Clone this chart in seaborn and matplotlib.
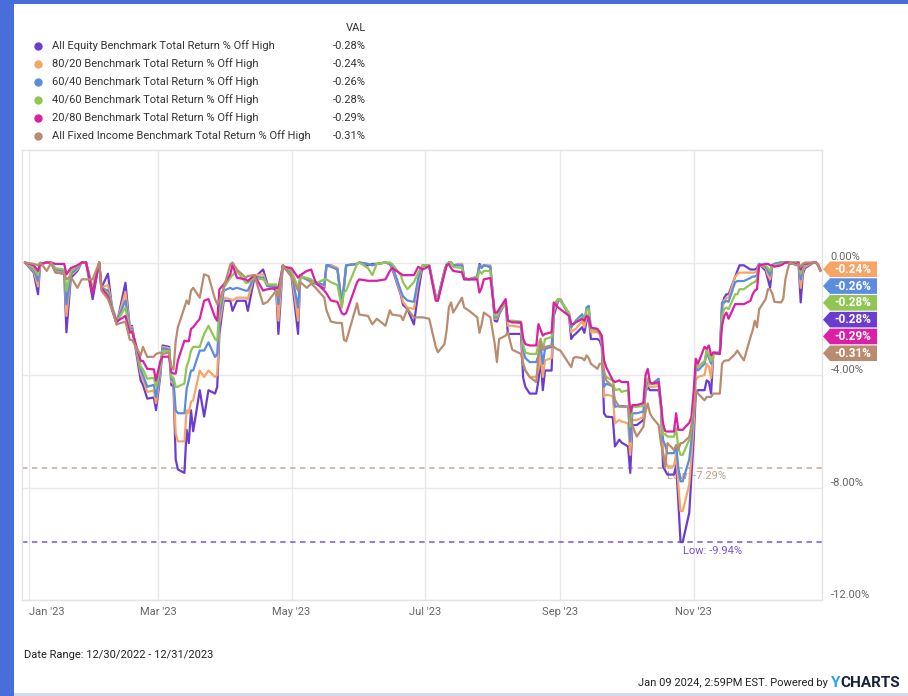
import pandas as pd
import matplotlib
matplotlib.use("Agg")
import matplotlib.pyplot as plt
import matplotlib.dates as mdates
from matplotlib.patches import Polygon, Rectangle
from matplotlib.lines import Line2D
from matplotlib.ticker import FuncFormatter
from matplotlib.transforms import IdentityTransform
import seaborn as sns

#Series names and colours as shown in the legend
series_names = [
    "All Equity Benchmark Total Return % Off High",
    "80/20 Benchmark Total Return % Off High",
    "60/40 Benchmark Total Return % Off High",
    "40/60 Benchmark Total Return % Off High",
    "20/80 Benchmark Total Return % Off High",
    "All Fixed Income Benchmark Total Return % Off High",
]
series_colors = ["#6a3dd0", "#f7a467", "#5a8ddf", "#91c655", "#dd1fa5", "#b98c6f"]

#Trading dates (one line per month)
dates = [
    "2022-12-30", "2023-01-03", "2023-01-05", "2023-01-06", "2023-01-09", "2023-01-11", "2023-01-13",
    "2023-01-17", "2023-01-18", "2023-01-20", "2023-01-23", "2023-01-25", "2023-01-27", "2023-01-30",
    "2023-02-02", "2023-02-03", "2023-02-06", "2023-02-08", "2023-02-10", "2023-02-14", "2023-02-16",
    "2023-02-17", "2023-02-21", "2023-02-22", "2023-02-24", "2023-02-27", "2023-02-28",
    "2023-03-02", "2023-03-03", "2023-03-06", "2023-03-07", "2023-03-08", "2023-03-09", "2023-03-10",
    "2023-03-13", "2023-03-14", "2023-03-15", "2023-03-16", "2023-03-17", "2023-03-20", "2023-03-22",
    "2023-03-24", "2023-03-27", "2023-03-28", "2023-03-29", "2023-03-31",
    "2023-04-03", "2023-04-04", "2023-04-06", "2023-04-10", "2023-04-11", "2023-04-14", "2023-04-18",
    "2023-04-20", "2023-04-24", "2023-04-25", "2023-04-27",
    "2023-05-01", "2023-05-04", "2023-05-05", "2023-05-08", "2023-05-10", "2023-05-12", "2023-05-16",
    "2023-05-17", "2023-05-19", "2023-05-22", "2023-05-24", "2023-05-25", "2023-05-26", "2023-05-31",
    "2023-06-01", "2023-06-05", "2023-06-07", "2023-06-09", "2023-06-13", "2023-06-15", "2023-06-16",
    "2023-06-20", "2023-06-21", "2023-06-23", "2023-06-26", "2023-06-28", "2023-06-30",
    "2023-07-03", "2023-07-06", "2023-07-07", "2023-07-10", "2023-07-11", "2023-07-12", "2023-07-13",
    "2023-07-14", "2023-07-18", "2023-07-19", "2023-07-21", "2023-07-25", "2023-07-26", "2023-07-27",
    "2023-07-28", "2023-07-31",
    "2023-08-02", "2023-08-03", "2023-08-04", "2023-08-07", "2023-08-08", "2023-08-10", "2023-08-14",
    "2023-08-15", "2023-08-16", "2023-08-18", "2023-08-21", "2023-08-22", "2023-08-23", "2023-08-24",
    "2023-08-25", "2023-08-28", "2023-08-29", "2023-08-31",
    "2023-09-01", "2023-09-05", "2023-09-06", "2023-09-07", "2023-09-08", "2023-09-11", "2023-09-12",
    "2023-09-13", "2023-09-14", "2023-09-15", "2023-09-18", "2023-09-19", "2023-09-20", "2023-09-21",
    "2023-09-22", "2023-09-25", "2023-09-26", "2023-09-28", "2023-09-29",
    "2023-10-02", "2023-10-03", "2023-10-04", "2023-10-06", "2023-10-09", "2023-10-10", "2023-10-11",
    "2023-10-12", "2023-10-13", "2023-10-16", "2023-10-17", "2023-10-18", "2023-10-19", "2023-10-20",
    "2023-10-23", "2023-10-24", "2023-10-25", "2023-10-26", "2023-10-27", "2023-10-30", "2023-10-31",
    "2023-11-01", "2023-11-02", "2023-11-03", "2023-11-06", "2023-11-07", "2023-11-08", "2023-11-09",
    "2023-11-10", "2023-11-13", "2023-11-14", "2023-11-15", "2023-11-16", "2023-11-17", "2023-11-20",
    "2023-11-21", "2023-11-22", "2023-11-24", "2023-11-27", "2023-11-28", "2023-11-29", "2023-11-30",
    "2023-12-01", "2023-12-04", "2023-12-05", "2023-12-06", "2023-12-07", "2023-12-08", "2023-12-11",
    "2023-12-12", "2023-12-13", "2023-12-14", "2023-12-15", "2023-12-18", "2023-12-19", "2023-12-20",
    "2023-12-21", "2023-12-22", "2023-12-26", "2023-12-27", "2023-12-28", "2023-12-29",
]

#% off high for each benchmark (same month grouping as dates)
all_equity = [
    0, -0.35, -1.13, -0.05, 0, -0.02, -0.35, -0.40, -2.48, -0.55, -0.30, 0, 0, -1.30,
    0, -0.90, -0.40, -1.70, -2.20, -0.72, -2.30, -2.25, -4.20, -4.35, -4.84, -4.80, -5.25,
    -4.00, -2.95, -3.00, -4.36, -4.40, -7.00, -7.36, -7.48, -5.95, -6.42, -5.25, -6.00, -4.54, -5.48,
    -4.54, -4.66, -4.42, -2.54, -1.36,
    -1.36, -1.72, -1.36, -1.36, -1.72, -0.54, -0.25, -0.78, -1.00, -2.54, -0.10,
    -0.50, -2.54, -0.50, -0.60, -0.70, -0.75, -0.90, -0.10, -0.10, -0.20, -1.50, -0.90, -0.10, -0.05,
    0, -0.10, -0.05, -0.05, 0, -0.05, -0.20, -1.15, -1.50, -1.65, -2.20, -1.05, -0.10,
    -0.13, -1.25, -1.30, -0.30, -0.07, 0, 0, -0.10, -0.05, -0.55, -0.60, -0.50, -0.05, -0.15, -0.10, -0.15,
    -2.07, -2.10, -1.84, -1.40, -2.54, -2.54, -2.54, -4.10, -4.42, -4.66, -4.66, -4.19, -3.40, -4.54,
    -3.84, -3.84, -1.90, -1.36,
    -1.30, -1.90, -2.72, -2.60, -2.54, -2.30, -2.50, -2.10, -1.95, -2.72, -2.72, -2.78, -3.00, -5.36,
    -5.48, -5.50, -6.54, -6.30, -6.40,
    -6.54, -7.48, -5.78, -5.78, -5.60, -4.60, -4.42, -4.54, -4.54, -4.54, -5.00, -7.25, -7.40, -7.54,
    -7.54, -7.20, -8.50, -9.94, -9.94, -8.90, -7.60,
    -6.30, -4.66, -4.54, -4.54, -4.19, -4.25, -4.66, -3.25, -3.25, -1.60, -1.25, -1.13, -1.13, -0.50,
    -0.30, -0.10, -0.10, -0.25, -0.25, -0.25, -0.20,
    -0.05, -0.30, -0.60, -0.90, -0.10, -0.05, 0, 0, 0, 0, -0.05, 0, 0, -1.42,
    -0.40, -0.20, 0, 0, -0.10, -0.283,
]
mix_80_20 = [
    0, -0.30, -0.85, -0.05, 0, -0.02, -0.30, -0.35, -1.90, -0.45, -0.25, 0, 0, -1.05,
    0, -0.90, -0.80, -1.60, -2.15, -1.05, -2.30, -2.30, -3.95, -4.15, -4.60, -4.55, -5.00,
    -3.90, -3.00, -3.05, -4.25, -4.30, -6.07, -6.36, -6.36, -5.25, -5.36, -4.95, -4.90, -3.84, -4.07,
    -3.84, -4.07, -4.00, -2.19, -1.25,
    -1.30, -1.35, -1.25, -1.25, -1.30, -0.45, -0.42, -0.84, -0.90, -2.07, -0.10,
    -0.40, -2.07, -0.50, -0.60, -0.70, -0.70, -0.85, -0.15, -0.10, -0.20, -1.50, -0.85, -0.10, -0.05,
    0, -0.05, -0.10, -0.05, 0, -0.05, -0.15, -1.10, -1.40, -1.60, -1.65, -0.70, -0.10,
    -0.10, -1.20, -1.25, -0.30, -0.07, 0, 0, -0.10, -0.05, -0.55, -0.60, -0.50, -0.10, -0.15, -0.10, -0.10,
    -2.00, -2.00, -1.80, -1.40, -2.25, -2.25, -2.30, -3.60, -3.84, -4.07, -4.07, -3.80, -3.30, -4.07,
    -3.48, -3.40, -1.75, -1.30,
    -1.30, -1.85, -2.48, -2.40, -2.36, -2.10, -2.30, -1.95, -1.80, -2.48, -2.48, -2.55, -2.90, -4.78,
    -4.70, -4.75, -5.72, -5.60, -5.65,
    -5.72, -6.84, -5.60, -5.60, -5.50, -4.60, -4.31, -4.42, -4.42, -4.40, -5.00, -6.78, -7.00, -7.25,
    -7.25, -6.80, -7.90, -8.84, -8.84, -7.90, -6.90,
    -5.80, -4.19, -4.07, -4.00, -3.60, -3.70, -4.10, -3.25, -3.25, -1.72, -1.36, -1.25, -1.25, -0.50,
    -0.42, -0.36, -0.36, -0.36, -0.36, -0.36, -0.30,
    -0.05, -0.20, -0.45, -0.60, -0.10, -0.05, 0, 0, 0, 0, 0, 0, 0, -0.90,
    -0.30, -0.15, 0, 0, -0.08, -0.24,
]
mix_60_40 = [
    0, -0.25, -0.65, -0.05, 0, -0.02, -0.25, -0.30, -1.48, -0.40, -0.20, 0, 0, -0.95,
    0, -0.90, -1.00, -1.60, -2.10, -1.35, -2.40, -2.35, -3.80, -4.00, -4.42, -4.35, -4.78,
    -3.80, -3.05, -3.10, -4.15, -4.20, -5.25, -5.36, -5.36, -4.50, -4.19, -3.84, -3.84, -3.13, -3.13,
    -2.84, -3.36, -3.25, -1.90, -1.00,
    -0.90, -0.95, -0.90, -1.00, -1.00, -0.50, -0.54, -0.84, -0.84, -1.48, -0.10,
    -0.35, -1.60, -0.45, -0.60, -0.65, -0.70, -0.80, -0.10, -0.15, -0.25, -1.50, -0.80, -0.10, -0.05,
    0, -0.05, -0.10, -0.05, 0, -0.05, -0.10, -1.00, -1.20, -1.35, -1.40, -0.55, -0.10,
    -0.10, -1.20, -1.25, -0.30, -0.07, 0, 0, -0.10, -0.10, -0.55, -0.60, -0.55, -0.10, -0.20, -0.10, -0.15,
    -1.95, -1.95, -1.75, -1.45, -2.07, -2.10, -2.15, -3.10, -3.40, -3.54, -3.54, -3.30, -3.00, -3.60,
    -3.07, -3.00, -1.60, -1.30,
    -1.35, -1.80, -2.31, -2.20, -2.07, -1.84, -2.10, -1.60, -1.54, -2.36, -2.42, -2.45, -2.80, -4.42,
    -4.31, -4.40, -5.13, -5.10, -5.10,
    -5.13, -6.36, -5.36, -5.36, -5.30, -4.50, -4.13, -4.31, -4.31, -4.13, -5.00, -6.31, -6.50, -6.78,
    -6.78, -6.50, -7.30, -7.78, -7.78, -7.00, -6.30,
    -5.30, -3.72, -3.84, -3.60, -3.20, -3.40, -3.60, -3.20, -3.20, -1.42, -1.42, -1.36, -1.40, -0.70,
    -0.66, -0.66, -0.66, -0.55, -0.50, -0.50, -0.45,
    -0.05, -0.15, -0.30, -0.45, -0.10, -0.05, 0, 0, 0, 0, 0, 0, 0, -0.60,
    -0.20, -0.10, 0, 0, -0.10, -0.26,
]
mix_40_60 = [
    0, -0.20, -0.45, -0.05, 0, -0.02, -0.20, -0.25, -1.00, -0.30, -0.15, 0, 0, -0.90,
    0, -0.90, -1.10, -1.65, -2.10, -1.60, -2.45, -2.40, -3.70, -3.80, -4.13, -4.10, -4.42,
    -3.70, -3.15, -3.15, -4.05, -4.10, -4.42, -4.42, -4.30, -3.70, -3.48, -3.13, -3.00, -3.00, -2.54,
    -2.25, -2.72, -2.78, -1.54, -0.90,
    -0.54, -0.45, -0.30, -0.72, -0.72, -0.55, -0.60, -0.78, -0.78, -1.13, -0.10,
    -0.30, -0.90, -0.50, -0.55, -0.60, -0.75, -0.60, -0.60, -0.70, -0.80, -1.60, -1.05, -1.00, -0.05,
    0, -0.20, -0.45, -0.05, 0, 0, -0.05, -0.45, -0.70, -0.95, -0.70, -0.35, -0.10,
    -0.10, -1.25, -1.30, -0.35, -0.07, 0, 0, -0.15, -0.20, -0.60, -0.60, -0.60, -0.30, -0.40, -0.30, -0.30,
    -1.90, -1.90, -1.70, -1.50, -2.07, -2.07, -2.10, -2.90, -3.20, -3.25, -3.25, -2.90, -2.70, -3.10,
    -2.72, -2.65, -1.50, -1.30,
    -1.35, -1.80, -2.19, -2.20, -2.13, -1.95, -2.10, -1.70, -1.66, -2.36, -2.42, -2.45, -2.70, -3.95,
    -4.07, -4.20, -4.54, -4.50, -4.60,
    -4.54, -5.84, -5.13, -5.13, -5.10, -4.30, -4.13, -4.31, -4.31, -4.31, -5.00, -6.13, -6.10, -6.19,
    -6.19, -5.90, -6.60, -6.84, -6.84, -6.30, -5.90,
    -4.90, -3.60, -3.72, -3.50, -3.07, -3.30, -3.50, -3.25, -3.25, -1.90, -1.66, -1.60, -1.66, -1.13,
    -1.13, -0.95, -0.95, -0.78, -0.72, -0.70, -0.60,
    -0.10, -0.10, -0.20, -0.30, -0.10, -0.10, -0.05, 0, 0, 0, 0, 0, 0, -0.40,
    -0.15, -0.10, 0, 0, -0.10, -0.277,
]
mix_20_80 = [
    0, -0.10, -0.30, -0.05, 0, 0, -0.05, -0.05, -0.42, -0.20, -0.10, 0, 0, -1.10,
    0, -0.90, -1.20, -1.70, -2.10, -1.90, -2.50, -2.45, -3.50, -3.50, -3.78, -3.80, -4.19,
    -3.50, -3.35, -3.35, -3.90, -3.95, -3.95, -3.48, -2.78, -2.80, -2.80, -2.36, -2.30, -2.00, -1.36,
    -1.30, -1.95, -2.07, -0.95, -0.78,
    -0.42, -0.07, -0.54, -0.60, -0.66, -0.45, -1.00, -0.95, -0.90, -0.90, -0.15,
    -0.20, -0.54, -0.45, -0.30, -0.25, -0.70, -1.00, -1.10, -1.35, -1.40, -1.80, -1.85, -1.80, -0.70,
    -0.60, -0.65, -0.65, -0.65, -0.60, -0.30, -0.20, -0.40, -0.45, -0.45, -0.45, -0.15, -0.25,
    -0.13, -1.36, -1.36, -0.40, -0.10, -0.05, -0.20, -0.30, -0.35, -0.60, -0.60, -0.60, -1.07, -0.90, -0.60, -0.55,
    -1.78, -1.78, -1.66, -1.30, -2.07, -2.13, -2.13, -2.70, -2.90, -2.95, -2.95, -2.19, -2.40, -2.60,
    -2.54, -2.48, -1.42, -1.60,
    -1.66, -1.90, -2.19, -2.19, -2.13, -2.01, -2.07, -1.90, -1.95, -2.31, -2.36, -2.48, -2.60, -3.48,
    -3.72, -4.19, -4.25, -4.19, -4.25,
    -4.25, -5.36, -5.07, -5.07, -5.00, -4.00, -3.78, -4.25, -4.31, -4.25, -5.00, -5.72, -6.00, -6.01,
    -6.01, -5.36, -5.95, -5.95, -5.95, -5.70, -5.50,
    -4.60, -3.42, -3.60, -3.00, -3.07, -2.95, -3.30, -3.20, -3.25, -2.25, -1.90, -1.78, -2.00, -1.48,
    -1.48, -1.48, -1.48, -1.36, -1.13, -1.00, -0.95,
    -0.10, -0.05, -0.05, -0.10, -0.10, -0.15, -0.10, -0.05, 0, 0, 0, -0.05, 0, -0.25,
    -0.05, -0.05, 0, 0, -0.10, -0.29,
]
all_fixed_income = [
    0, -0.05, -0.10, 0, -0.30, 0, -0.35, -0.40, -0.60, -0.50, -0.90, -0.60, -0.60, -0.60,
    0, -1.00, -1.30, -1.70, -2.20, -2.10, -2.75, -2.75, -3.30, -3.00, -3.36, -3.35, -3.25,
    -3.20, -3.25, -3.20, -3.72, -3.80, -2.80, -2.30, -1.60, -1.35, -1.48, -1.00, -0.90, -1.25, -0.42,
    -0.48, -1.30, -1.48, -1.36, -0.90,
    -0.07, 0, -0.25, -0.54, -0.48, -0.45, -1.48, -1.40, -1.00, -1.25, -0.10,
    -0.50, -1.00, -0.70, -0.90, -0.75, -0.90, -1.25, -1.70, -2.10, -2.15, -2.15, -2.75, -2.80, -1.45,
    -1.85, -1.90, -2.20, -2.00, -2.25, -1.70, -1.85, -1.90, -2.05, -1.65, -1.95, -1.95, -1.95,
    -2.00, -3.00, -3.19, -2.90, -2.40, -1.60, -1.42, -1.78, -1.25, -1.60, -1.70, -1.95, -2.50, -2.20, -1.78, -1.95,
    -2.90, -3.54, -2.72, -2.60, -2.48, -3.10, -3.25, -3.60, -3.84, -4.07, -4.25, -3.30, -2.78, -3.10,
    -3.00, -2.95, -3.00, -3.10,
    -3.13, -3.60, -3.72, -3.40, -3.36, -3.40, -3.48, -3.30, -3.40, -3.60, -3.78, -3.60, -3.60, -3.84,
    -4.19, -4.40, -4.89, -5.13, -5.13,
    -5.13, -5.50, -5.80, -6.19, -5.84, -5.30, -5.01, -5.36, -5.50, -5.78, -6.40, -6.78, -7.29, -6.42,
    -6.66, -6.50, -6.66, -6.42, -6.42, -6.20, -5.80,
    -5.30, -4.54, -4.66, -4.90, -4.78, -4.78, -4.78, -4.66, -4.66, -3.60, -3.50, -3.48, -3.48, -3.25,
    -3.13, -3.25, -3.48, -2.66, -2.42, -2.07, -2.30,
    -1.66, -1.30, -0.95, -0.95, -1.10, -1.40, -1.42, -1.30, -0.60, -0.25, 0, -0.10, -0.05, -0.15,
    -0.05, 0, 0, 0, -0.10, -0.31,
]

series_values = [all_equity, mix_80_20, mix_60_40, mix_40_60, mix_20_80, all_fixed_income]
for vals in series_values:
    assert len(vals) == len(dates), len(vals)

#Long format for seaborn
df = pd.DataFrame({"Date": pd.to_datetime(dates)})
for name, vals in zip(series_names, series_values):
    df[name] = vals
long_df = df.melt(id_vars="Date", var_name="Series", value_name="Value")

sns.set_theme(style="white")
plt.rcParams["font.family"] = ["Roboto", "DejaVu Sans"]

W, H = 908, 696
fig = plt.figure(figsize=(W / 100, H / 100), dpi=100)
fig.patch.set_facecolor("white")
ax = fig.add_axes([22 / W, 1 - 600 / H, 800 / W, 450 / H])

sns.lineplot(
    data=long_df, x="Date", y="Value", hue="Series",
    hue_order=series_names, palette=series_colors,
    linewidth=1.6, legend=False, errorbar=None, ax=ax, zorder=3,
)

ax.set_xlim(pd.Timestamp("2022-12-28 16:00"), pd.Timestamp("2023-12-29 18:00"))
ax.set_ylim(-12, 4)
ax.set_xlabel("")
ax.set_ylabel("")

#Grid and frame in light grey
ax.set_yticks([0, -4, -8, -12])
ax.yaxis.set_major_formatter(FuncFormatter(lambda v, p: f"{v:.2f}%"))
ax.xaxis.set_major_locator(mdates.MonthLocator(bymonth=[1, 3, 5, 7, 9, 11]))
ax.xaxis.set_major_formatter(mdates.DateFormatter("%b '%y"))
ax.grid(True, color="#e8e8e8", linewidth=1)
for sp in ax.spines.values():
    sp.set_color("#e3e3e3")
    sp.set_linewidth(1)
ax.yaxis.tick_right()
ax.tick_params(axis="both", length=0, labelsize=8, labelcolor="#666666")
ax.tick_params(axis="y", pad=6)
ax.tick_params(axis="x", pad=5)

#Low markers for equity and fixed income
eq_low = min(all_equity)
fi_low = min(all_fixed_income)
eq_low_date = df.loc[df[series_names[0]].idxmin(), "Date"]
fi_low_date = df.loc[df[series_names[5]].idxmin(), "Date"]
ax.axhline(fi_low, color=series_colors[5], alpha=0.65, lw=1.3, ls=(0, (3, 2.5)), zorder=2)
ax.axhline(eq_low, color=series_colors[0], alpha=0.75, lw=1.3, ls=(0, (3, 2.5)), zorder=2)
ax.annotate(f"Low: {fi_low:.2f}%", xy=(fi_low_date, fi_low), xytext=(1, -2.5),
            textcoords="offset points", ha="left", va="top", fontsize=8,
            color=series_colors[5], alpha=0.85, zorder=2.5)
ax.annotate(f"Low: {eq_low:.2f}%", xy=(eq_low_date, eq_low), xytext=(2, -2.5),
            textcoords="offset points", ha="left", va="top", fontsize=8,
            color=series_colors[0], alpha=0.9, zorder=4)

fig.canvas.draw()
for lbl in ax.get_yticklabels():
    lbl.set_va("bottom")
xlabels = ax.get_xticklabels()
if xlabels:
    xlabels[0].set_ha("left")

#Last-value flags on the right, stacked from the highest value down
last_vals = [vals[-1] for vals in series_values]
order = sorted(range(len(series_names)), key=lambda i: -last_vals[i])
x_tip = ax.transAxes.transform((1, 0))[0]
y_first = ax.transData.transform((0, last_vals[order[0]]))[1]
tag_h = 16.8
for k, i in enumerate(order):
    yc = y_first - k * tag_h
    verts = [
        (x_tip + 1, yc),
        (x_tip + 8, yc + tag_h / 2 - 0.6),
        (x_tip + 55, yc + tag_h / 2 - 0.6),
        (x_tip + 55, yc - tag_h / 2 + 0.6),
        (x_tip + 8, yc - tag_h / 2 + 0.6),
    ]
    fig.add_artist(Polygon(verts, closed=True, transform=IdentityTransform(),
                           facecolor=series_colors[i], edgecolor="none", zorder=5))
    fig.text((x_tip + 31) / W, yc / H, f"{last_vals[i]:.2f}%", ha="center", va="center",
             fontsize=8.5, fontweight="bold", color="white", zorder=6)

#Legend table at the top
fig.text(366 / W, 1 - 28 / H, "VAL", ha="right", va="center", fontsize=8, color="#333333")
for i, name in enumerate(series_names):
    y = 1 - (46 + 18 * i) / H
    fig.add_artist(Line2D([38 / W], [y], marker="o", markersize=5, color=series_colors[i],
                          linestyle="none", transform=fig.transFigure))
    fig.text(52 / W, y, name, ha="left", va="center", fontsize=8, color="#333333")
    fig.text(366 / W, y, f"{last_vals[i]:.2f}%", ha="right", va="center", fontsize=8, color="#333333")

#Blue card frame
fig.add_artist(Rectangle((0, 0), 14 / W, 1, transform=fig.transFigure,
                         facecolor="#4a6ddc", edgecolor="none", zorder=0))
fig.add_artist(Rectangle((0, 1 - 4 / H), 1, 4 / H, transform=fig.transFigure,
                         facecolor="#4a6ddc", edgecolor="none", zorder=0))
fig.add_artist(Rectangle((14 / W, 1 - 696 / H), 1, 3 / H, transform=fig.transFigure,
                         facecolor="#d3dbee", edgecolor="none", zorder=0))

#Footer
fig.text(24 / W, 1 - 655 / H, "Date Range: 12/30/2022 - 12/31/2023", ha="left", va="center",
         fontsize=8, color="#222222")
charts = fig.text(900 / W, 1 - 683 / H, "CHARTS", ha="right", va="center", fontsize=11,
                  fontweight="bold", color="#17233a")
ylogo = ax.annotate("Y", xy=(0, 0.5), xycoords=charts, ha="right", va="center", fontsize=11,
                    fontweight="bold", color="#2aa5e4", annotation_clip=False)
ax.annotate("Jan 09 2024, 2:59PM EST. Powered by ", xy=(0, 0.5), xycoords=ylogo, ha="right",
            va="center", fontsize=8, color="#222222", annotation_clip=False)

plt.savefig("out.png", dpi=100)
